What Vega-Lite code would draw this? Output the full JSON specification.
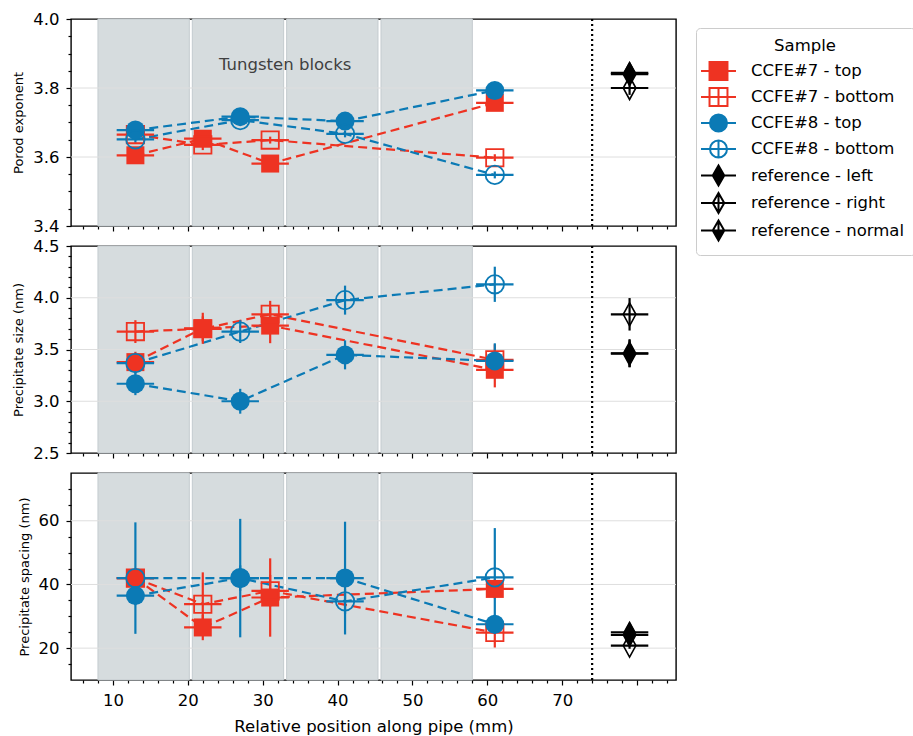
{
  "$schema": "https://vega.github.io/schema/vega-lite/v6.json",
  "padding": {"left": 12, "top": 10, "right": 0, "bottom": 5},
  "background": "white",
  "datasets": {
    "pts": [
      {"panel": "porod", "sample": "CCFE#7 - top", "x": 13, "y": 3.605, "ylo": 3.595, "yhi": 3.615, "xlo": 10.5, "xhi": 15.5},
      {"panel": "porod", "sample": "CCFE#7 - top", "x": 22, "y": 3.653, "ylo": 3.643, "yhi": 3.663, "xlo": 19.5, "xhi": 24.5},
      {"panel": "porod", "sample": "CCFE#7 - top", "x": 31, "y": 3.581, "ylo": 3.571, "yhi": 3.591, "xlo": 28.5, "xhi": 33.5},
      {"panel": "porod", "sample": "CCFE#7 - top", "x": 61, "y": 3.757, "ylo": 3.747, "yhi": 3.767, "xlo": 58.5, "xhi": 63.5},
      {"panel": "porod", "sample": "CCFE#7 - bottom", "x": 13, "y": 3.665, "ylo": 3.655, "yhi": 3.675, "xlo": 10.5, "xhi": 15.5},
      {"panel": "porod", "sample": "CCFE#7 - bottom", "x": 22, "y": 3.635, "ylo": 3.62, "yhi": 3.65, "xlo": 19.5, "xhi": 24.5},
      {"panel": "porod", "sample": "CCFE#7 - bottom", "x": 31, "y": 3.649, "ylo": 3.639, "yhi": 3.659, "xlo": 28.5, "xhi": 33.5},
      {"panel": "porod", "sample": "CCFE#7 - bottom", "x": 61, "y": 3.598, "ylo": 3.588, "yhi": 3.608, "xlo": 58.5, "xhi": 63.5},
      {"panel": "porod", "sample": "CCFE#8 - top", "x": 13, "y": 3.678, "ylo": 3.668, "yhi": 3.688, "xlo": 10.5, "xhi": 15.5},
      {"panel": "porod", "sample": "CCFE#8 - top", "x": 27, "y": 3.717, "ylo": 3.707, "yhi": 3.727, "xlo": 24.5, "xhi": 29.5},
      {"panel": "porod", "sample": "CCFE#8 - top", "x": 41, "y": 3.704, "ylo": 3.694, "yhi": 3.714, "xlo": 38.5, "xhi": 43.5},
      {"panel": "porod", "sample": "CCFE#8 - top", "x": 61, "y": 3.793, "ylo": 3.783, "yhi": 3.803, "xlo": 58.5, "xhi": 63.5},
      {"panel": "porod", "sample": "CCFE#8 - bottom", "x": 13, "y": 3.651, "ylo": 3.641, "yhi": 3.661, "xlo": 10.5, "xhi": 15.5},
      {"panel": "porod", "sample": "CCFE#8 - bottom", "x": 27, "y": 3.707, "ylo": 3.697, "yhi": 3.717, "xlo": 24.5, "xhi": 29.5},
      {"panel": "porod", "sample": "CCFE#8 - bottom", "x": 41, "y": 3.667, "ylo": 3.657, "yhi": 3.677, "xlo": 38.5, "xhi": 43.5},
      {"panel": "porod", "sample": "CCFE#8 - bottom", "x": 61, "y": 3.548, "ylo": 3.538, "yhi": 3.558, "xlo": 58.5, "xhi": 63.5},
      {"panel": "porod", "sample": "reference - left", "x": 79, "y": 3.844, "ylo": 3.824, "yhi": 3.864, "xlo": 76.5, "xhi": 81.5},
      {"panel": "porod", "sample": "reference - right", "x": 79, "y": 3.8, "ylo": 3.78, "yhi": 3.82, "xlo": 76.5, "xhi": 81.5},
      {"panel": "porod", "sample": "reference - normal", "x": 79, "y": 3.84, "ylo": 3.82, "yhi": 3.86, "xlo": 76.5, "xhi": 81.5},

      {"panel": "size", "sample": "CCFE#7 - top", "x": 13, "y": 3.378, "ylo": 3.278, "yhi": 3.478, "xlo": 10.5, "xhi": 15.5},
      {"panel": "size", "sample": "CCFE#7 - top", "x": 22, "y": 3.705, "ylo": 3.555, "yhi": 3.855, "xlo": 19.5, "xhi": 24.5},
      {"panel": "size", "sample": "CCFE#7 - top", "x": 31, "y": 3.731, "ylo": 3.561, "yhi": 3.901, "xlo": 28.5, "xhi": 33.5},
      {"panel": "size", "sample": "CCFE#7 - top", "x": 61, "y": 3.304, "ylo": 3.134, "yhi": 3.474, "xlo": 58.5, "xhi": 63.5},
      {"panel": "size", "sample": "CCFE#7 - bottom", "x": 13, "y": 3.673, "ylo": 3.563, "yhi": 3.783, "xlo": 10.5, "xhi": 15.5},
      {"panel": "size", "sample": "CCFE#7 - bottom", "x": 22, "y": 3.7, "ylo": 3.58, "yhi": 3.82, "xlo": 19.5, "xhi": 24.5},
      {"panel": "size", "sample": "CCFE#7 - bottom", "x": 31, "y": 3.84, "ylo": 3.71, "yhi": 3.97, "xlo": 28.5, "xhi": 33.5},
      {"panel": "size", "sample": "CCFE#7 - bottom", "x": 61, "y": 3.4, "ylo": 3.25, "yhi": 3.55, "xlo": 58.5, "xhi": 63.5},
      {"panel": "size", "sample": "CCFE#8 - top", "x": 13, "y": 3.169, "ylo": 3.059, "yhi": 3.279, "xlo": 10.5, "xhi": 15.5},
      {"panel": "size", "sample": "CCFE#8 - top", "x": 27, "y": 3.0, "ylo": 2.88, "yhi": 3.12, "xlo": 24.5, "xhi": 29.5},
      {"panel": "size", "sample": "CCFE#8 - top", "x": 41, "y": 3.448, "ylo": 3.308, "yhi": 3.588, "xlo": 38.5, "xhi": 43.5},
      {"panel": "size", "sample": "CCFE#8 - top", "x": 61, "y": 3.39, "ylo": 3.22, "yhi": 3.56, "xlo": 58.5, "xhi": 63.5},
      {"panel": "size", "sample": "CCFE#8 - bottom", "x": 13, "y": 3.368, "ylo": 3.268, "yhi": 3.468, "xlo": 10.5, "xhi": 15.5},
      {"panel": "size", "sample": "CCFE#8 - bottom", "x": 27, "y": 3.673, "ylo": 3.563, "yhi": 3.783, "xlo": 24.5, "xhi": 29.5},
      {"panel": "size", "sample": "CCFE#8 - bottom", "x": 41, "y": 3.977, "ylo": 3.837, "yhi": 4.117, "xlo": 38.5, "xhi": 43.5},
      {"panel": "size", "sample": "CCFE#8 - bottom", "x": 61, "y": 4.13, "ylo": 3.96, "yhi": 4.3, "xlo": 58.5, "xhi": 63.5},
      {"panel": "size", "sample": "reference - left", "x": 79, "y": 3.464, "ylo": 3.328, "yhi": 3.6, "xlo": 76.5, "xhi": 81.5},
      {"panel": "size", "sample": "reference - right", "x": 79, "y": 3.84, "ylo": 3.683, "yhi": 3.997, "xlo": 76.5, "xhi": 81.5},
      {"panel": "size", "sample": "reference - normal", "x": 79, "y": 3.46, "ylo": 3.33, "yhi": 3.59, "xlo": 76.5, "xhi": 81.5},

      {"panel": "spacing", "sample": "CCFE#7 - top", "x": 13, "y": 42.0, "ylo": 39.0, "yhi": 45.0, "xlo": 10.5, "xhi": 15.5},
      {"panel": "spacing", "sample": "CCFE#7 - top", "x": 22, "y": 26.5, "ylo": 22.5, "yhi": 30.5, "xlo": 19.5, "xhi": 24.5},
      {"panel": "spacing", "sample": "CCFE#7 - top", "x": 31, "y": 35.9, "ylo": 23.6, "yhi": 48.2, "xlo": 28.5, "xhi": 33.5},
      {"panel": "spacing", "sample": "CCFE#7 - top", "x": 61, "y": 38.6, "ylo": 35.6, "yhi": 41.6, "xlo": 58.5, "xhi": 63.5},
      {"panel": "spacing", "sample": "CCFE#7 - bottom", "x": 13, "y": 42.0, "ylo": 39.0, "yhi": 45.0, "xlo": 10.5, "xhi": 15.5},
      {"panel": "spacing", "sample": "CCFE#7 - bottom", "x": 22, "y": 33.8, "ylo": 23.8, "yhi": 43.8, "xlo": 19.5, "xhi": 24.5},
      {"panel": "spacing", "sample": "CCFE#7 - bottom", "x": 31, "y": 38.0, "ylo": 33.0, "yhi": 43.0, "xlo": 28.5, "xhi": 33.5},
      {"panel": "spacing", "sample": "CCFE#7 - bottom", "x": 61, "y": 24.9, "ylo": 20.2, "yhi": 29.6, "xlo": 58.5, "xhi": 63.5},
      {"panel": "spacing", "sample": "CCFE#8 - top", "x": 13, "y": 36.5, "ylo": 33.5, "yhi": 39.5, "xlo": 10.5, "xhi": 15.5},
      {"panel": "spacing", "sample": "CCFE#8 - top", "x": 27, "y": 42.0, "ylo": 23.4, "yhi": 60.6, "xlo": 24.5, "xhi": 29.5},
      {"panel": "spacing", "sample": "CCFE#8 - top", "x": 41, "y": 42.0, "ylo": 24.3, "yhi": 59.7, "xlo": 38.5, "xhi": 43.5},
      {"panel": "spacing", "sample": "CCFE#8 - top", "x": 61, "y": 27.5, "ylo": 24.5, "yhi": 30.5, "xlo": 58.5, "xhi": 63.5},
      {"panel": "spacing", "sample": "CCFE#8 - bottom", "x": 13, "y": 42.0, "ylo": 24.5, "yhi": 59.5, "xlo": 10.5, "xhi": 15.5},
      {"panel": "spacing", "sample": "CCFE#8 - bottom", "x": 27, "y": 42.0, "ylo": 38.0, "yhi": 46.0, "xlo": 24.5, "xhi": 29.5},
      {"panel": "spacing", "sample": "CCFE#8 - bottom", "x": 41, "y": 34.7, "ylo": 30.7, "yhi": 38.7, "xlo": 38.5, "xhi": 43.5},
      {"panel": "spacing", "sample": "CCFE#8 - bottom", "x": 61, "y": 42.2, "ylo": 26.7, "yhi": 57.7, "xlo": 58.5, "xhi": 63.5},
      {"panel": "spacing", "sample": "reference - left", "x": 79, "y": 25.0, "ylo": 24.0, "yhi": 26.0, "xlo": 76.5, "xhi": 81.5},
      {"panel": "spacing", "sample": "reference - right", "x": 79, "y": 20.8, "ylo": 19.8, "yhi": 21.8, "xlo": 76.5, "xhi": 81.5},
      {"panel": "spacing", "sample": "reference - normal", "x": 79, "y": 24.2, "ylo": 23.2, "yhi": 25.2, "xlo": 76.5, "xhi": 81.5}
    ],
    "blocks": [
      {"start": 8.0, "end": 20.2},
      {"start": 20.6, "end": 32.8},
      {"start": 33.2, "end": 45.4},
      {"start": 45.8, "end": 58.0}
    ],
    "grid": [
      {"panel": "porod", "v": 3.6}, {"panel": "porod", "v": 3.8},
      {"panel": "size", "v": 3.0}, {"panel": "size", "v": 3.5}, {"panel": "size", "v": 4.0},
      {"panel": "spacing", "v": 20}, {"panel": "spacing", "v": 40}, {"panel": "spacing", "v": 60}
    ]
  },
  "spacing": 20,
  "bounds": "flush",
  "resolve": {"scale": {"x": "independent", "y": "independent"}},
  "vconcat": [
    {
      "width": 605, "height": 207,
      "resolve": {"axis": {"x": "independent", "y": "independent"}},
      "layer": [
        {"data": {"name": "blocks"}, "mark": {"type": "rect", "fill": "#d6dcde", "stroke": "#c4cbcf", "strokeWidth": 1},
         "encoding": {"x": {"field": "start", "type": "quantitative", "scale": {"domain": [4.4, 85.2], "nice": false},
           "axis": {"orient": "bottom", "values": [10, 20, 30, 40, 50, 60, 70, 80], "labels": false, "title": null, "tickSize": 5, "domain": false, "grid": false}},
           "x2": {"field": "end"}}},
        {"data": {"name": "grid"}, "transform": [{"filter": "datum.panel == 'porod'"}], "mark": {"type": "rule", "color": "#dedede", "strokeWidth": 1},
         "encoding": {"y": {"field": "v", "type": "quantitative", "scale": {"domain": [3.4, 4.0], "nice": false},
           "axis": {"orient": "left", "values": [3.4, 3.6, 3.8, 4.0], "format": ".1f", "title": "Porod exponent", "tickSize": 5, "domain": false, "grid": false}}}},
        {"data": {"name": "pts"}, "transform": [{"filter": "datum.panel == 'porod'"}],
         "mark": {"type": "point", "opacity": 0},
         "encoding": {
           "x": {"field": "x", "type": "quantitative", "scale": {"domain": [4.4, 85.2], "nice": false},
             "axis": {"orient": "bottom", "values": [6, 8, 12, 14, 16, 18, 22, 24, 26, 28, 32, 34, 36, 38, 42, 44, 46, 48, 52, 54, 56, 58, 62, 64, 66, 68, 72, 74, 76, 78, 82, 84], "labels": false, "title": null, "tickSize": 3, "domain": false, "grid": false}},
           "y": {"field": "y", "type": "quantitative", "scale": {"domain": [3.4, 4.0], "nice": false},
             "axis": {"orient": "left", "values": [3.45, 3.5, 3.55, 3.65, 3.7, 3.75, 3.85, 3.9, 3.95], "labels": false, "title": null, "tickSize": 3, "domain": false, "grid": false}}}},
        {"data": {"values": [{}]}, "mark": {"type": "rule", "color": "black", "strokeDash": [2, 3], "strokeWidth": 2.2},
         "encoding": {"x": {"datum": 74, "type": "quantitative", "axis": null}}},
        {"data": {"values": [{}]}, "mark": {"type": "text", "font": "DejaVu Sans", "fontSize": 16.5, "color": "#404040"},
         "encoding": {"x": {"datum": 33, "type": "quantitative", "axis": null}, "y": {"datum": 3.866, "type": "quantitative", "axis": null}, "text": {"value": "Tungsten blocks"}}},
        {"data": {"name": "pts"}, "transform": [{"filter": "datum.panel == 'porod' && indexof(datum.sample, 'CCFE') == 0"}],
         "mark": {"type": "line", "strokeDash": [9, 5], "strokeWidth": 2.2},
         "encoding": {"x": {"field": "x", "type": "quantitative", "axis": null}, "y": {"field": "y", "type": "quantitative", "axis": null},
           "color": {"field": "sample", "type": "nominal", "legend": null, "scale": {"domain": ["reference - left", "reference - right", "reference - normal", "CCFE#7 - top", "CCFE#7 - bottom", "CCFE#8 - top", "CCFE#8 - bottom"], "range": ["#000000", "#000000", "#000000", "#ee3322", "#ee3322", "#0b7ab5", "#0b7ab5"]}}}},
        {"data": {"name": "pts"}, "transform": [{"filter": "datum.panel == 'porod'"}],
         "mark": {"type": "rule", "strokeWidth": 2.2},
         "encoding": {"x": {"field": "xlo", "type": "quantitative", "axis": null}, "x2": {"field": "xhi"}, "y": {"field": "y", "type": "quantitative", "axis": null},
           "color": {"field": "sample", "type": "nominal", "legend": null}}},
        {"data": {"name": "pts"}, "transform": [{"filter": "datum.panel == 'porod'"}],
         "mark": {"type": "rule", "strokeWidth": 2.2},
         "encoding": {"x": {"field": "x", "type": "quantitative", "axis": null}, "y": {"field": "ylo", "type": "quantitative", "axis": null}, "y2": {"field": "yhi"},
           "color": {"field": "sample", "type": "nominal", "legend": null}}},
        {"data": {"name": "pts"}, "transform": [{"filter": "datum.panel == 'porod' && datum.sample == 'CCFE#7 - top'"}],
         "mark": {"type": "point", "shape": "square", "filled": true, "size": 324, "opacity": 1, "strokeWidth": 0},
         "encoding": {"x": {"field": "x", "type": "quantitative", "axis": null}, "y": {"field": "y", "type": "quantitative", "axis": null}, "color": {"field": "sample", "type": "nominal", "legend": null}}},
        {"data": {"name": "pts"}, "transform": [{"filter": "datum.panel == 'porod' && datum.sample == 'CCFE#7 - bottom'"}],
         "mark": {"type": "point", "shape": "square", "filled": false, "size": 300, "opacity": 1, "strokeWidth": 1.8},
         "encoding": {"x": {"field": "x", "type": "quantitative", "axis": null}, "y": {"field": "y", "type": "quantitative", "axis": null}, "color": {"field": "sample", "type": "nominal", "legend": null}}},
        {"data": {"name": "pts"}, "transform": [{"filter": "datum.panel == 'porod' && datum.sample == 'CCFE#8 - top'"}],
         "mark": {"type": "point", "shape": "circle", "filled": true, "size": 361, "opacity": 1, "strokeWidth": 0},
         "encoding": {"x": {"field": "x", "type": "quantitative", "axis": null}, "y": {"field": "y", "type": "quantitative", "axis": null}, "color": {"field": "sample", "type": "nominal", "legend": null}}},
        {"data": {"name": "pts"}, "transform": [{"filter": "datum.panel == 'porod' && datum.sample == 'CCFE#8 - bottom'"}],
         "mark": {"type": "point", "shape": "circle", "filled": false, "size": 340, "opacity": 1, "strokeWidth": 1.8},
         "encoding": {"x": {"field": "x", "type": "quantitative", "axis": null}, "y": {"field": "y", "type": "quantitative", "axis": null}, "color": {"field": "sample", "type": "nominal", "legend": null}}},
        {"data": {"name": "pts"}, "transform": [{"filter": "datum.panel == 'porod' && datum.sample == 'reference - left'"}],
         "mark": {"type": "point", "shape": "M0,-1L0.55,0L0,1L-0.55,0Z", "filled": true, "color": "black", "size": 529, "opacity": 1, "strokeWidth": 0},
         "encoding": {"x": {"field": "x", "type": "quantitative", "axis": null}, "y": {"field": "y", "type": "quantitative", "axis": null}}},
        {"data": {"name": "pts"}, "transform": [{"filter": "datum.panel == 'porod' && datum.sample == 'reference - right'"}],
         "mark": {"type": "point", "shape": "M0,-1L0.55,0L0,1L-0.55,0Z", "filled": false, "color": "black", "size": 529, "opacity": 1, "strokeWidth": 1.6},
         "encoding": {"x": {"field": "x", "type": "quantitative", "axis": null}, "y": {"field": "y", "type": "quantitative", "axis": null}}},
        {"data": {"name": "pts"}, "transform": [{"filter": "datum.panel == 'porod' && datum.sample == 'reference - normal'"}],
         "mark": {"type": "point", "shape": "M-0.55,0L0,-1L0.55,0L0,-1ZM-0.55,0L0.55,0L0,1Z", "filled": true, "color": "black", "stroke": "black", "size": 529, "opacity": 1, "strokeWidth": 1.6},
         "encoding": {"x": {"field": "x", "type": "quantitative", "axis": null}, "y": {"field": "y", "type": "quantitative", "axis": null}}},
        {"data": {"name": "pts"}, "transform": [{"filter": "datum.panel == 'none'"}],
         "mark": {"type": "point", "filled": false, "strokeWidth": 2, "opacity": 1},
         "encoding": {"x": {"field": "x", "type": "quantitative", "axis": null}, "y": {"field": "y", "type": "quantitative", "axis": null},
           "stroke": {"field": "sample", "type": "nominal", "title": "Sample", "legend": {"symbolOpacity": 1}, "scale": {"domain": ["CCFE#7 - top", "CCFE#7 - bottom", "CCFE#8 - top", "CCFE#8 - bottom", "reference - left", "reference - right", "reference - normal"], "range": ["#ee3322", "#ee3322", "#0b7ab5", "#0b7ab5", "#000000", "#000000", "#000000"]}},
           "fill": {"field": "sample", "type": "nominal", "title": "Sample", "legend": {"symbolOpacity": 1}, "scale": {"domain": ["CCFE#7 - top", "CCFE#7 - bottom", "CCFE#8 - top", "CCFE#8 - bottom", "reference - left", "reference - right", "reference - normal"], "range": ["#ee3322", "transparent", "#0b7ab5", "transparent", "#000000", "transparent", "#000000"]}},
           "shape": {"field": "sample", "type": "nominal", "title": "Sample", "legend": {"symbolOpacity": 1}, "scale": {"domain": ["CCFE#7 - top", "CCFE#7 - bottom", "CCFE#8 - top", "CCFE#8 - bottom", "reference - left", "reference - right", "reference - normal"], "range": [
             "M-1.52,0H1.52M-0.78,-0.78H0.78V0.78H-0.78Z",
             "M-1.52,0H1.52M0,-0.78V0.78M-0.78,-0.78H0.78V0.78H-0.78Z",
             "M-1.52,0H1.52M0.74,0A0.74,0.74,0,1,1,-0.74,0A0.74,0.74,0,1,1,0.74,0Z",
             "M-1.52,0H1.52M0,-0.74V0.74M0.74,0A0.74,0.74,0,1,1,-0.74,0A0.74,0.74,0,1,1,0.74,0Z",
             "M-1.52,0H1.52M0,-0.86L0.5,0L0,0.86L-0.5,0Z",
             "M-1.52,0H1.52M0,-0.86V0.86M0,-0.86L0.5,0L0,0.86L-0.5,0Z",
             "M-1.52,0H1.52M0,-0.86V0.86M-0.5,0L0,-0.86L0.5,0L0,-0.86ZM-0.5,0L0.5,0L0,0.86Z"
           ]}}}}
      ]
    },
    {
      "width": 605, "height": 207,
      "resolve": {"axis": {"x": "independent", "y": "independent"}},
      "layer": [
        {"data": {"name": "blocks"}, "mark": {"type": "rect", "fill": "#d6dcde", "stroke": "#c4cbcf", "strokeWidth": 1},
         "encoding": {"x": {"field": "start", "type": "quantitative", "scale": {"domain": [4.4, 85.2], "nice": false},
           "axis": {"orient": "bottom", "values": [10, 20, 30, 40, 50, 60, 70, 80], "labels": false, "title": null, "tickSize": 5, "domain": false, "grid": false}},
           "x2": {"field": "end"}}},
        {"data": {"name": "grid"}, "transform": [{"filter": "datum.panel == 'size'"}], "mark": {"type": "rule", "color": "#dedede", "strokeWidth": 1},
         "encoding": {"y": {"field": "v", "type": "quantitative", "scale": {"domain": [2.5, 4.5], "nice": false},
           "axis": {"orient": "left", "values": [2.5, 3.0, 3.5, 4.0, 4.5], "format": ".1f", "title": "Precipitate size (nm)", "tickSize": 5, "domain": false, "grid": false}}}},
        {"data": {"name": "pts"}, "transform": [{"filter": "datum.panel == 'size'"}],
         "mark": {"type": "point", "opacity": 0},
         "encoding": {
           "x": {"field": "x", "type": "quantitative", "scale": {"domain": [4.4, 85.2], "nice": false},
             "axis": {"orient": "bottom", "values": [6, 8, 12, 14, 16, 18, 22, 24, 26, 28, 32, 34, 36, 38, 42, 44, 46, 48, 52, 54, 56, 58, 62, 64, 66, 68, 72, 74, 76, 78, 82, 84], "labels": false, "title": null, "tickSize": 3, "domain": false, "grid": false}},
           "y": {"field": "y", "type": "quantitative", "scale": {"domain": [2.5, 4.5], "nice": false},
             "axis": {"orient": "left", "values": [2.6, 2.7, 2.8, 2.9, 3.1, 3.2, 3.3, 3.4, 3.6, 3.7, 3.8, 3.9, 4.1, 4.2, 4.3, 4.4], "labels": false, "title": null, "tickSize": 3, "domain": false, "grid": false}}}},
        {"data": {"values": [{}]}, "mark": {"type": "rule", "color": "black", "strokeDash": [2, 3], "strokeWidth": 2.2},
         "encoding": {"x": {"datum": 74, "type": "quantitative", "axis": null}}},
        {"data": {"name": "pts"}, "transform": [{"filter": "datum.panel == 'size' && indexof(datum.sample, 'CCFE') == 0"}],
         "mark": {"type": "line", "strokeDash": [9, 5], "strokeWidth": 2.2},
         "encoding": {"x": {"field": "x", "type": "quantitative", "axis": null}, "y": {"field": "y", "type": "quantitative", "axis": null},
           "color": {"field": "sample", "type": "nominal", "legend": null}}},
        {"data": {"name": "pts"}, "transform": [{"filter": "datum.panel == 'size'"}],
         "mark": {"type": "rule", "strokeWidth": 2.2},
         "encoding": {"x": {"field": "xlo", "type": "quantitative", "axis": null}, "x2": {"field": "xhi"}, "y": {"field": "y", "type": "quantitative", "axis": null},
           "color": {"field": "sample", "type": "nominal", "legend": null}}},
        {"data": {"name": "pts"}, "transform": [{"filter": "datum.panel == 'size'"}],
         "mark": {"type": "rule", "strokeWidth": 2.2},
         "encoding": {"x": {"field": "x", "type": "quantitative", "axis": null}, "y": {"field": "ylo", "type": "quantitative", "axis": null}, "y2": {"field": "yhi"},
           "color": {"field": "sample", "type": "nominal", "legend": null}}},
        {"data": {"name": "pts"}, "transform": [{"filter": "datum.panel == 'size' && datum.sample == 'CCFE#7 - top'"}],
         "mark": {"type": "point", "shape": "square", "filled": true, "size": 324, "opacity": 1, "strokeWidth": 0},
         "encoding": {"x": {"field": "x", "type": "quantitative", "axis": null}, "y": {"field": "y", "type": "quantitative", "axis": null}, "color": {"field": "sample", "type": "nominal", "legend": null}}},
        {"data": {"name": "pts"}, "transform": [{"filter": "datum.panel == 'size' && datum.sample == 'CCFE#7 - bottom'"}],
         "mark": {"type": "point", "shape": "square", "filled": false, "size": 300, "opacity": 1, "strokeWidth": 1.8},
         "encoding": {"x": {"field": "x", "type": "quantitative", "axis": null}, "y": {"field": "y", "type": "quantitative", "axis": null}, "color": {"field": "sample", "type": "nominal", "legend": null}}},
        {"data": {"name": "pts"}, "transform": [{"filter": "datum.panel == 'size' && datum.sample == 'CCFE#8 - top'"}],
         "mark": {"type": "point", "shape": "circle", "filled": true, "size": 361, "opacity": 1, "strokeWidth": 0},
         "encoding": {"x": {"field": "x", "type": "quantitative", "axis": null}, "y": {"field": "y", "type": "quantitative", "axis": null}, "color": {"field": "sample", "type": "nominal", "legend": null}}},
        {"data": {"name": "pts"}, "transform": [{"filter": "datum.panel == 'size' && datum.sample == 'CCFE#8 - bottom'"}],
         "mark": {"type": "point", "shape": "circle", "filled": false, "size": 340, "opacity": 1, "strokeWidth": 1.8},
         "encoding": {"x": {"field": "x", "type": "quantitative", "axis": null}, "y": {"field": "y", "type": "quantitative", "axis": null}, "color": {"field": "sample", "type": "nominal", "legend": null}}},
        {"data": {"name": "pts"}, "transform": [{"filter": "datum.panel == 'size' && datum.sample == 'reference - left'"}],
         "mark": {"type": "point", "shape": "M0,-1L0.55,0L0,1L-0.55,0Z", "filled": true, "color": "black", "size": 529, "opacity": 1, "strokeWidth": 0},
         "encoding": {"x": {"field": "x", "type": "quantitative", "axis": null}, "y": {"field": "y", "type": "quantitative", "axis": null}}},
        {"data": {"name": "pts"}, "transform": [{"filter": "datum.panel == 'size' && datum.sample == 'reference - right'"}],
         "mark": {"type": "point", "shape": "M0,-1L0.55,0L0,1L-0.55,0Z", "filled": false, "color": "black", "size": 529, "opacity": 1, "strokeWidth": 1.6},
         "encoding": {"x": {"field": "x", "type": "quantitative", "axis": null}, "y": {"field": "y", "type": "quantitative", "axis": null}}},
        {"data": {"name": "pts"}, "transform": [{"filter": "datum.panel == 'size' && datum.sample == 'reference - normal'"}],
         "mark": {"type": "point", "shape": "M-0.55,0L0,-1L0.55,0L0,-1ZM-0.55,0L0.55,0L0,1Z", "filled": true, "color": "black", "stroke": "black", "size": 529, "opacity": 1, "strokeWidth": 1.6},
         "encoding": {"x": {"field": "x", "type": "quantitative", "axis": null}, "y": {"field": "y", "type": "quantitative", "axis": null}}}
      ]
    },
    {
      "width": 605, "height": 207,
      "resolve": {"axis": {"x": "independent", "y": "independent"}},
      "layer": [
        {"data": {"name": "blocks"}, "mark": {"type": "rect", "fill": "#d6dcde", "stroke": "#c4cbcf", "strokeWidth": 1},
         "encoding": {"x": {"field": "start", "type": "quantitative", "scale": {"domain": [4.4, 85.2], "nice": false},
           "axis": {"orient": "bottom", "values": [10, 20, 30, 40, 50, 60, 70, 80], "labelExpr": "datum.value > 75 ? '' : datum.label", "title": "Relative position along pipe (mm)", "titleFontSize": 16.5, "tickSize": 5, "domain": false, "grid": false}},
           "x2": {"field": "end"}}},
        {"data": {"name": "grid"}, "transform": [{"filter": "datum.panel == 'spacing'"}], "mark": {"type": "rule", "color": "#dedede", "strokeWidth": 1},
         "encoding": {"y": {"field": "v", "type": "quantitative", "scale": {"domain": [10, 75], "nice": false},
           "axis": {"orient": "left", "values": [20, 40, 60], "format": "d", "title": "Precipitate spacing (nm)", "tickSize": 5, "domain": false, "grid": false}}}},
        {"data": {"name": "pts"}, "transform": [{"filter": "datum.panel == 'spacing'"}],
         "mark": {"type": "point", "opacity": 0},
         "encoding": {
           "x": {"field": "x", "type": "quantitative", "scale": {"domain": [4.4, 85.2], "nice": false},
             "axis": {"orient": "bottom", "values": [6, 8, 12, 14, 16, 18, 22, 24, 26, 28, 32, 34, 36, 38, 42, 44, 46, 48, 52, 54, 56, 58, 62, 64, 66, 68, 72, 74, 76, 78, 82, 84], "labels": false, "title": null, "tickSize": 3, "domain": false, "grid": false}},
           "y": {"field": "y", "type": "quantitative", "scale": {"domain": [10, 75], "nice": false},
             "axis": {"orient": "left", "values": [15, 25, 30, 35, 45, 50, 55, 65, 70], "labels": false, "title": null, "tickSize": 3, "domain": false, "grid": false}}}},
        {"data": {"values": [{}]}, "mark": {"type": "rule", "color": "black", "strokeDash": [2, 3], "strokeWidth": 2.2},
         "encoding": {"x": {"datum": 74, "type": "quantitative", "axis": null}}},
        {"data": {"name": "pts"}, "transform": [{"filter": "datum.panel == 'spacing' && indexof(datum.sample, 'CCFE') == 0"}],
         "mark": {"type": "line", "strokeDash": [9, 5], "strokeWidth": 2.2},
         "encoding": {"x": {"field": "x", "type": "quantitative", "axis": null}, "y": {"field": "y", "type": "quantitative", "axis": null},
           "color": {"field": "sample", "type": "nominal", "legend": null}}},
        {"data": {"name": "pts"}, "transform": [{"filter": "datum.panel == 'spacing'"}],
         "mark": {"type": "rule", "strokeWidth": 2.2},
         "encoding": {"x": {"field": "xlo", "type": "quantitative", "axis": null}, "x2": {"field": "xhi"}, "y": {"field": "y", "type": "quantitative", "axis": null},
           "color": {"field": "sample", "type": "nominal", "legend": null}}},
        {"data": {"name": "pts"}, "transform": [{"filter": "datum.panel == 'spacing'"}],
         "mark": {"type": "rule", "strokeWidth": 2.2},
         "encoding": {"x": {"field": "x", "type": "quantitative", "axis": null}, "y": {"field": "ylo", "type": "quantitative", "axis": null}, "y2": {"field": "yhi"},
           "color": {"field": "sample", "type": "nominal", "legend": null}}},
        {"data": {"name": "pts"}, "transform": [{"filter": "datum.panel == 'spacing' && datum.sample == 'CCFE#7 - top'"}],
         "mark": {"type": "point", "shape": "square", "filled": true, "size": 324, "opacity": 1, "strokeWidth": 0},
         "encoding": {"x": {"field": "x", "type": "quantitative", "axis": null}, "y": {"field": "y", "type": "quantitative", "axis": null}, "color": {"field": "sample", "type": "nominal", "legend": null}}},
        {"data": {"name": "pts"}, "transform": [{"filter": "datum.panel == 'spacing' && datum.sample == 'CCFE#7 - bottom'"}],
         "mark": {"type": "point", "shape": "square", "filled": false, "size": 300, "opacity": 1, "strokeWidth": 1.8},
         "encoding": {"x": {"field": "x", "type": "quantitative", "axis": null}, "y": {"field": "y", "type": "quantitative", "axis": null}, "color": {"field": "sample", "type": "nominal", "legend": null}}},
        {"data": {"name": "pts"}, "transform": [{"filter": "datum.panel == 'spacing' && datum.sample == 'CCFE#8 - top'"}],
         "mark": {"type": "point", "shape": "circle", "filled": true, "size": 361, "opacity": 1, "strokeWidth": 0},
         "encoding": {"x": {"field": "x", "type": "quantitative", "axis": null}, "y": {"field": "y", "type": "quantitative", "axis": null}, "color": {"field": "sample", "type": "nominal", "legend": null}}},
        {"data": {"name": "pts"}, "transform": [{"filter": "datum.panel == 'spacing' && datum.sample == 'CCFE#8 - bottom'"}],
         "mark": {"type": "point", "shape": "circle", "filled": false, "size": 340, "opacity": 1, "strokeWidth": 1.8},
         "encoding": {"x": {"field": "x", "type": "quantitative", "axis": null}, "y": {"field": "y", "type": "quantitative", "axis": null}, "color": {"field": "sample", "type": "nominal", "legend": null}}},
        {"data": {"name": "pts"}, "transform": [{"filter": "datum.panel == 'spacing' && datum.sample == 'reference - left'"}],
         "mark": {"type": "point", "shape": "M0,-1L0.55,0L0,1L-0.55,0Z", "filled": true, "color": "black", "size": 529, "opacity": 1, "strokeWidth": 0},
         "encoding": {"x": {"field": "x", "type": "quantitative", "axis": null}, "y": {"field": "y", "type": "quantitative", "axis": null}}},
        {"data": {"name": "pts"}, "transform": [{"filter": "datum.panel == 'spacing' && datum.sample == 'reference - right'"}],
         "mark": {"type": "point", "shape": "M0,-1L0.55,0L0,1L-0.55,0Z", "filled": false, "color": "black", "size": 529, "opacity": 1, "strokeWidth": 1.6},
         "encoding": {"x": {"field": "x", "type": "quantitative", "axis": null}, "y": {"field": "y", "type": "quantitative", "axis": null}}},
        {"data": {"name": "pts"}, "transform": [{"filter": "datum.panel == 'spacing' && datum.sample == 'reference - normal'"}],
         "mark": {"type": "point", "shape": "M-0.55,0L0,-1L0.55,0L0,-1ZM-0.55,0L0.55,0L0,1Z", "filled": true, "color": "black", "stroke": "black", "size": 529, "opacity": 1, "strokeWidth": 1.6},
         "encoding": {"x": {"field": "x", "type": "quantitative", "axis": null}, "y": {"field": "y", "type": "quantitative", "axis": null}}}
      ]
    }
  ],
  "config": {
    "font": "DejaVu Sans",
    "view": {"stroke": "#000000", "strokeWidth": 1.4},
    "axis": {"labelFontSize": 16.5, "titleFontSize": 13, "titleFontWeight": "normal", "labelColor": "#000000", "titleColor": "#000000", "tickColor": "#000000", "tickWidth": 1.2, "labelPadding": 7, "labelFont": "DejaVu Sans", "titleFont": "DejaVu Sans"},
    "axisY": {"titlePadding": 7},
    "axisX": {"titlePadding": 10},
    "legend": {"orient": "none", "legendX": 625, "legendY": 9, "padding": 10, "strokeColor": "#cccccc", "cornerRadius": 4, "fillColor": "#ffffff", "titleFontSize": 16.5, "titleFontWeight": "normal", "titleAnchor": "middle", "titleColor": "#000000", "titlePadding": 4, "labelFontSize": 16.5, "labelColor": "#000000", "labelFont": "DejaVu Sans", "titleFont": "DejaVu Sans", "symbolSize": 529, "symbolStrokeWidth": 2, "labelOffset": 20, "rowPadding": -1.5}
  }
}
